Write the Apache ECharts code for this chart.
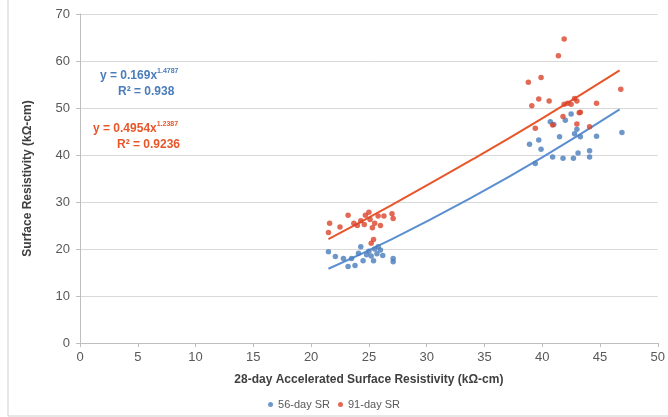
<!DOCTYPE html>
<html>
<head>
<meta charset="utf-8">
<script src="https://cdn.jsdelivr.net/npm/echarts@6/dist/echarts.min.js"></script>
<style>html,body{margin:0;padding:0;background:#fff}#c{width:668px;height:417px}</style>
</head>
<body>
<div id="c"></div>
<script>
// ---- data ----
var xTicks = [0, 5, 10, 15, 20, 25, 30, 35, 40, 45, 50];
var yTicks = [0, 10, 20, 30, 40, 50, 60, 70];

var sr56 = [
  [21.5,19.4],[22.1,18.4],[22.8,18.0],[23.5,18.0],[23.8,16.5],[24.1,19.1],[24.5,17.5],
  [24.8,18.8],[25.0,19.5],[25.2,18.5],[25.4,17.5],[25.5,20.0],[25.7,19.0],[26.0,19.8],
  [26.2,18.6],[24.3,20.5],[23.2,16.3],[27.1,18.0],[27.1,17.3],[25.8,20.5],
  [38.9,42.3],[39.4,38.2],[39.7,43.2],[39.9,41.2],[40.7,47.1],[40.9,39.6],[41.5,43.9],
  [41.8,39.3],[42.0,47.4],[42.5,48.7],[42.7,39.3],[43.1,40.4],[43.3,43.9],[43.0,45.5],
  [44.1,40.9],[44.1,39.6],[44.7,44.0],[46.9,44.8],[41.0,46.5],[42.8,44.5]
];
var sr91 = [
  [21.6,25.5],[21.5,23.5],[22.5,24.7],[23.2,27.2],[23.7,25.5],[24.0,25.0],[24.3,26.0],
  [24.7,27.2],[25.0,27.8],[25.1,26.3],[25.3,24.5],[25.5,25.5],[25.8,27.0],[25.4,22.0],
  [25.2,21.2],[26.0,25.0],[26.3,27.0],[27.0,27.5],[27.1,26.5],[24.6,25.2],
  [41.9,64.7],[41.4,61.1],[38.8,55.5],[39.9,56.5],[46.8,54.0],[39.7,51.9],[40.6,51.5],
  [39.1,50.5],[44.7,51.0],[42.5,50.8],[43.0,51.5],[41.9,50.8],[43.3,49.1],[43.2,49.0],
  [41.8,48.2],[40.9,46.4],[43.0,46.6],[44.1,46.0],[39.4,45.7],[42.8,52.0],[42.2,51.0]
];
// trendlines, points
var trend56 = [[21.5,15.8],[27,22.1],[34,31.1],[40,39.5],[46.7,49.7]];
var trend91 = [[21.5,22.1],[27,29.4],[34,39.1],[40,47.8],[46.7,58.0]];

var blueDot = '#4a7dbb', blueLine = '#5b8fd1';
var redDot = '#d9442b', redLine = '#e8562a';
var font = 'Liberation Sans, Arial, sans-serif';

var chart = echarts.init(document.getElementById('c'));
chart.setOption({
  animation: false,
  backgroundColor: '#fff',
  textStyle: { fontFamily: font },
  grid: { left: 80, right: 10, top: 14, bottom: 74, containLabel: false },
  xAxis: {
    type: 'value', min: 0, max: 50, interval: 5,
    name: '28-day Accelerated Surface Resistivity (k\u03A9-cm)',
    nameLocation: 'middle', nameGap: 31,
    nameTextStyle: { fontFamily: font, fontWeight: 'bold', fontSize: 12, color: '#404040' },
    axisLine: { show: true, lineStyle: { color: '#bfbfbf' } },
    axisTick: { show: true, length: 4, lineStyle: { color: '#bfbfbf' } },
    axisLabel: { color: '#595959', fontSize: 13, fontFamily: font, margin: 8,
      formatter: function (v) { return xTicks.indexOf(v) >= 0 ? String(v) : ''; } },
    splitLine: { show: false }
  },
  yAxis: {
    type: 'value', min: 0, max: 70, interval: 10,
    name: 'Surface Resistivity (k\u03A9-cm)',
    nameLocation: 'middle', nameGap: 46, nameRotate: 90,
    nameTextStyle: { fontFamily: font, fontWeight: 'bold', fontSize: 12, color: '#404040' },
    axisLine: { show: true, lineStyle: { color: '#bfbfbf' } },
    axisTick: { show: true, length: 4, lineStyle: { color: '#bfbfbf' } },
    axisLabel: { color: '#595959', fontSize: 13, fontFamily: font, margin: 10,
      formatter: function (v) { return yTicks.indexOf(v) >= 0 ? String(v) : ''; } },
    splitLine: { show: true, lineStyle: { color: '#d9d9d9', width: 1 } }
  },
  legend: {
    bottom: 2, left: 'center', itemWidth: 5, itemHeight: 5, itemGap: 8,
    textStyle: { color: '#595959', fontSize: 11, fontFamily: font },
    data: [{ name: '56-day SR', icon: 'circle' }, { name: '91-day SR', icon: 'circle' }]
  },
  graphic: [
    { type: 'rect', silent: true, shape: { x: 8, y: -5, width: 680, height: 421 },
      style: { fill: 'none', stroke: '#cfcfcf', lineWidth: 1 } },
    { type: 'text', left: 100, top: 68, style: { rich: {
        a: { fontFamily: font, fontWeight: 'bold', fontSize: 12, fill: blueDot },
        s: { fontFamily: font, fontWeight: 'bold', fontSize: 7, fill: blueDot, verticalAlign: 'top', padding: [0, 0, 8, 0] } },
        text: '{a|y = 0.169x}{s|1.4787}' } },
    { type: 'text', left: 118, top: 86, style: { text: 'R\u00B2 = 0.938',
        font: 'bold 12px ' + font, fill: blueDot } },
    { type: 'text', left: 93, top: 121, style: { rich: {
        a: { fontFamily: font, fontWeight: 'bold', fontSize: 12, fill: redLine },
        s: { fontFamily: font, fontWeight: 'bold', fontSize: 7, fill: redLine, verticalAlign: 'top', padding: [0, 0, 8, 0] } },
        text: '{a|y = 0.4954x}{s|1.2387}' } },
    { type: 'text', left: 117, top: 139, style: { text: 'R\u00B2 = 0.9236',
        font: 'bold 12px ' + font, fill: redLine } }
  ],
  series: [
    { name: '56-day SR', type: 'scatter', data: sr56, symbolSize: 5.5, z: 3,
      itemStyle: { color: blueDot } },
    { name: '91-day SR', type: 'scatter', data: sr91, symbolSize: 5.5, z: 3,
      itemStyle: { color: redDot } },
    { name: 'trend56', type: 'line', data: trend56, showSymbol: false, smooth: true, z: 2,
      lineStyle: { color: blueLine, width: 2 }, itemStyle: { color: blueLine } },
    { name: 'trend91', type: 'line', data: trend91, showSymbol: false, smooth: true, z: 2,
      lineStyle: { color: redLine, width: 2 }, itemStyle: { color: redLine } }
  ]
});
</script>
</body>
</html>
